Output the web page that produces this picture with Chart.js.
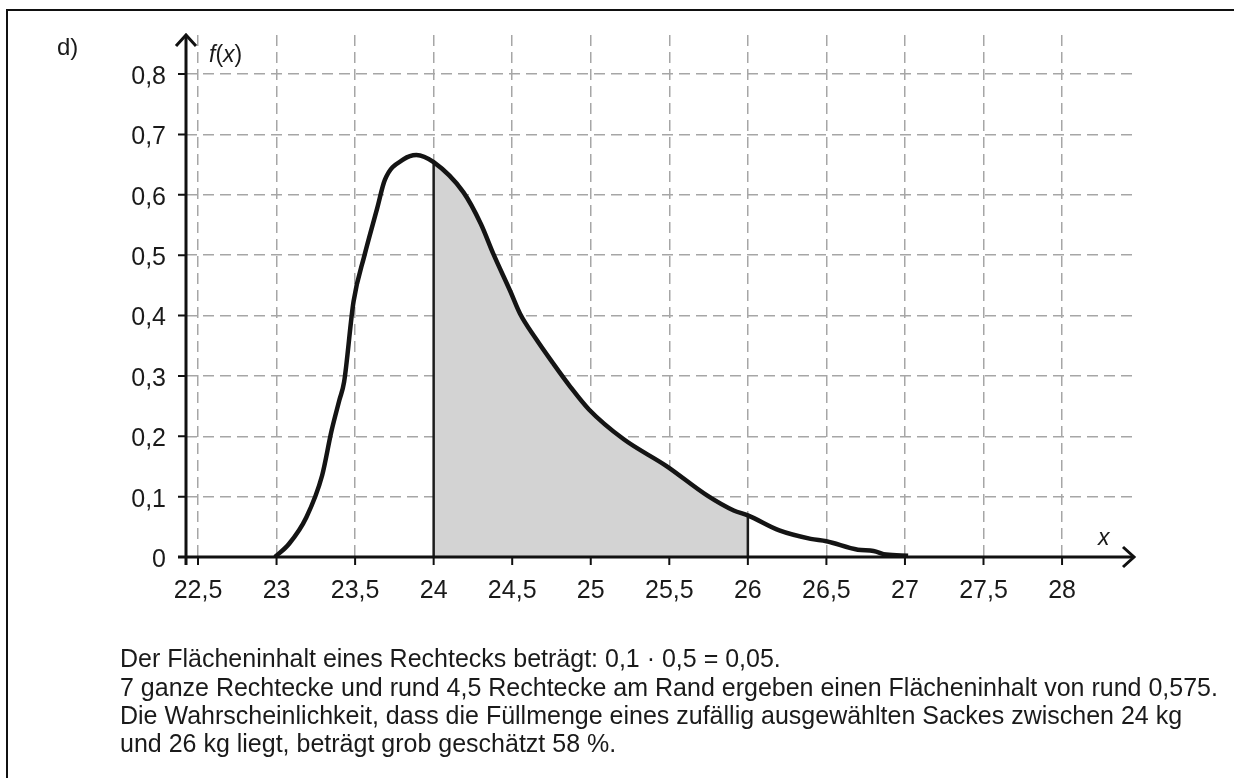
<!DOCTYPE html>
<html>
<head>
<meta charset="utf-8">
<script src="https://cdn.jsdelivr.net/npm/chart.js@4/dist/chart.umd.min.js"></script>
<style>
  html, body { margin: 0; padding: 0; background: #fff; }
  body { width: 1234px; height: 778px; position: relative; overflow: hidden;
         font-family: "Liberation Sans", Arial, sans-serif; color: #1a1a1a; }
  #frame { position: absolute; left: 6px; top: 9px; width: 1240px; height: 800px;
           border-left: 2px solid #111; border-top: 2px solid #111; }
  canvas { position: absolute; left: 0; top: 0; }
  .lbl { position: absolute; font-size: 24px; line-height: 1; white-space: nowrap; }
  .txt { position: absolute; left: 120px; font-size: 25px; line-height: 1; white-space: nowrap; }
</style>
</head>
<body>
<div id="frame"></div>
<canvas id="myChart" width="1234" height="778"></canvas>
<div class="lbl" style="left:57px; top:35px;">d)</div>
<div class="lbl" style="left:209px; top:43px; font-size:23px;"><i>f</i>(<i>x</i>)</div>
<div class="lbl" style="left:1098px; top:526px; font-size:23px;"><i>x</i></div>
<div class="txt" style="top:646px;">Der Flächeninhalt eines Rechtecks beträgt: 0,1 · 0,5 = 0,05.</div>
<div class="txt" style="top:675px;">7 ganze Rechtecke und rund 4,5 Rechtecke am Rand ergeben einen Flächeninhalt von rund 0,575.</div>
<div class="txt" style="top:703px;">Die Wahrscheinlichkeit, dass die Füllmenge eines zufällig ausgewählten Sackes zwischen 24 kg</div>
<div class="txt" style="top:731px;">und 26 kg liegt, beträgt grob geschätzt 58 %.</div>
<script>
// density curve
const curveX = [22.99, 23.08, 23.19, 23.29, 23.35, 23.40, 23.43, 23.49, 23.56, 23.64, 23.69, 23.81, 23.89,
    24.0, 24.19, 24.3, 24.38, 24.49, 24.55, 24.65, 24.76, 24.87, 24.99, 25.21, 25.48, 25.74, 25.91,
    26.0, 26.2, 26.4, 26.5, 26.7, 26.8, 26.88, 27.02];
const curveY = [0, 0.022, 0.066, 0.135, 0.209, 0.26, 0.29, 0.423, 0.5, 0.577, 0.625, 0.659, 0.666,
    0.654, 0.604, 0.552, 0.502, 0.439, 0.403, 0.362, 0.321, 0.282, 0.244, 0.195, 0.151, 0.102, 0.077,
    0.069, 0.044, 0.030, 0.026, 0.012, 0.010, 0.004, 0.002];
const areaFrom = 24;
const areaTo = 26;
const xTicks = [22.5, 23, 23.5, 24, 24.5, 25, 25.5, 26, 26.5, 27, 27.5, 28];
const yTicks = [0, 0.1, 0.2, 0.3, 0.4, 0.5, 0.6, 0.7, 0.8];

const points = curveX.map((x, i) => ({ x: x, y: curveY[i] }));
const areaPoints = points.filter(p => p.x >= areaFrom && p.x <= areaTo);
const valueAt = x => curveY[curveX.indexOf(x)];

const comma = v => (v === 0 ? "0" : String(v).replace(".", ","));

const axesPlugin = {
    id: "axes",
    afterDatasetsDraw(chart) {
        const { ctx, chartArea, scales } = chart;
        const x0 = scales.x.getPixelForValue(scales.x.min);
        const y0 = scales.y.getPixelForValue(0);
        ctx.save();
        ctx.strokeStyle = "#111";
        ctx.lineWidth = 3;
        ctx.lineCap = "butt";
        ctx.beginPath();
        ctx.moveTo(x0 - 8, y0);
        ctx.lineTo(chartArea.right + 1, y0);
        ctx.moveTo(x0, y0 + 8);
        ctx.lineTo(x0, chartArea.top);
        ctx.stroke();
        // tick marks
        ctx.lineWidth = 2;
        ctx.beginPath();
        xTicks.forEach(v => {
            const px = scales.x.getPixelForValue(v);
            ctx.moveTo(px, y0);
            ctx.lineTo(px, y0 + 8);
        });
        yTicks.forEach(v => {
            const py = scales.y.getPixelForValue(v);
            ctx.moveTo(x0 - 8, py);
            ctx.lineTo(x0, py);
        });
        ctx.stroke();
        // arrow heads
        ctx.lineWidth = 3;
        ctx.lineJoin = "miter";
        ctx.beginPath();
        ctx.moveTo(chartArea.right - 10, y0 - 10);
        ctx.lineTo(chartArea.right + 1, y0);
        ctx.lineTo(chartArea.right - 10, y0 + 10);
        ctx.moveTo(x0 - 10, chartArea.top + 11);
        ctx.lineTo(x0, chartArea.top);
        ctx.lineTo(x0 + 10, chartArea.top + 11);
        ctx.stroke();
        ctx.restore();
    }
};

const tickFont = { family: "Liberation Sans", size: 25 };

new Chart(document.getElementById("myChart"), {
    type: "line",
    data: {
        datasets: [
            {
                data: points,
                borderColor: "#141414",
                borderWidth: 4.5,
                pointRadius: 0,
                cubicInterpolationMode: "monotone",
                fill: false,
            },
            {
                data: [{ x: areaFrom, y: 0 }, { x: areaFrom, y: valueAt(areaFrom) }],
                borderColor: "#1c1c1c",
                borderWidth: 2.5,
                pointRadius: 0,
            },
            {
                data: [{ x: areaTo, y: 0 }, { x: areaTo, y: valueAt(areaTo) }],
                borderColor: "#1c1c1c",
                borderWidth: 2.5,
                pointRadius: 0,
            },
            {
                data: areaPoints,
                borderWidth: 0,
                backgroundColor: "#d3d3d3",
                pointRadius: 0,
                cubicInterpolationMode: "monotone",
                fill: "origin",
            },
        ],
    },
    options: {
        responsive: false,
        animation: false,
        events: [],
        layout: { padding: { left: 0, top: 33, right: 101, bottom: 0 } },
        plugins: { legend: { display: false }, tooltip: { enabled: false } },
        scales: {
            x: {
                type: "linear",
                min: 22.4236,
                max: 28.4516,
                afterBuildTicks: s => { s.ticks = xTicks.map(v => ({ value: v })); },
                afterFit: s => { s.height = 221; },
                grid: { color: "#a6a6a6", lineWidth: 1.5, drawTicks: false },
                border: { display: false, dash: [11, 6] },
                ticks: { font: tickFont, color: "#1a1a1a", padding: 19, maxRotation: 0, callback: v => comma(v) },
            },
            y: {
                min: 0,
                max: 0.8647,
                afterBuildTicks: s => { s.ticks = yTicks.map(v => ({ value: v })); },
                afterFit: s => { s.width = 186; },
                grid: { color: "#a6a6a6", lineWidth: 1.5, drawTicks: false },
                border: { display: false, dash: [11, 6] },
                ticks: { font: tickFont, color: "#1a1a1a", padding: 20, labelOffset: 3, callback: v => comma(v) },
            },
        },
    },
    plugins: [axesPlugin],
});
</script>
</body>
</html>
